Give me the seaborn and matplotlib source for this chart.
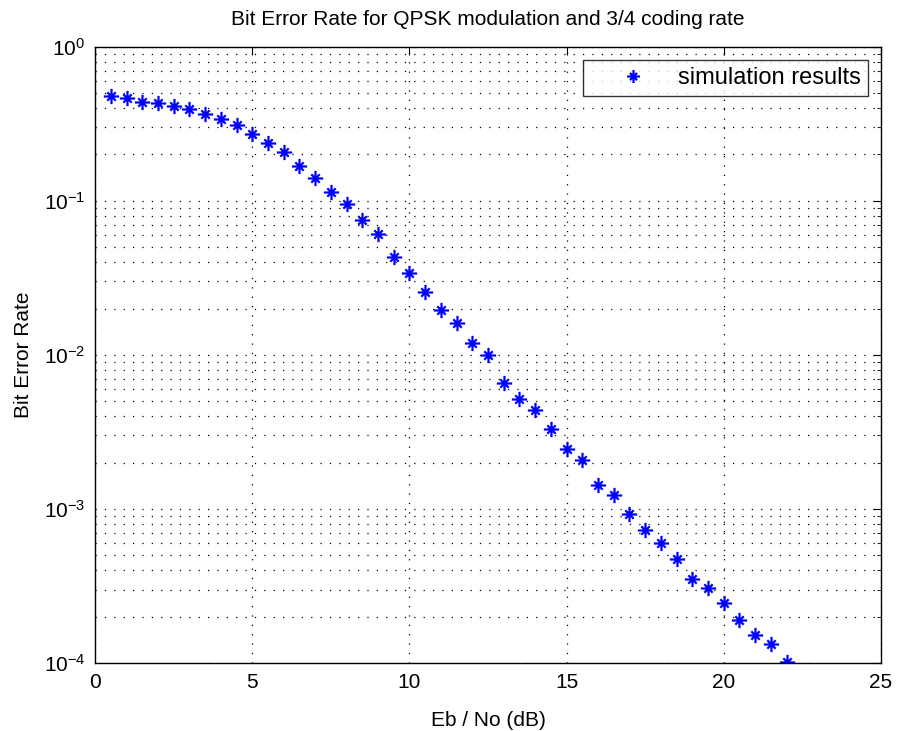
import matplotlib
matplotlib.use("Agg")
import matplotlib.pyplot as plt
from matplotlib.path import Path
import seaborn as sns
import numpy as np
import pandas as pd

ebno_db = [0.5, 1.0, 1.5, 2.0, 2.5, 3.0, 3.5, 4.0, 4.5, 5.0, 5.5, 6.0, 6.5, 7.0, 7.5,
           8.0, 8.5, 9.0, 9.5, 10.0, 10.5, 11.0, 11.5, 12.0, 12.5, 13.0, 13.5, 14.0,
           14.5, 15.0, 15.5, 16.0, 16.5, 17.0, 17.5, 18.0, 18.5, 19.0, 19.5, 20.0,
           20.5, 21.0, 21.5, 22.0]
ber = [0.479, 0.467, 0.440, 0.430, 0.414, 0.394, 0.364, 0.338, 0.310, 0.271,
       0.238, 0.208, 0.168, 0.140, 0.1146, 0.0958, 0.0747, 0.0606, 0.0434, 0.0341,
       0.0255, 0.0195, 0.0160, 0.0119, 0.00993, 0.0066, 0.0052, 0.00439, 0.00329,
       0.00244, 0.00207, 0.00142, 0.00124, 0.000927, 0.000727, 0.000604, 0.000475,
       0.000351, 0.000307, 0.000247, 0.000190, 0.000152, 0.000133, 0.000102]
x_ticks = [0, 5, 10, 15, 20, 25]
title = "Bit Error Rate for QPSK modulation and 3/4 coding rate"
xlabel = "Eb / No (dB)"
ylabel = "Bit Error Rate"
legend_label = "simulation results"

sns.set_style("white")
plt.rcParams['font.family'] = ['Liberation Sans', 'DejaVu Sans']
plt.rcParams['mathtext.fontset'] = 'custom'
plt.rcParams['mathtext.rm'] = 'Liberation Sans'
plt.rcParams['text.color'] = 'black'
plt.rcParams['axes.labelcolor'] = 'black'
plt.rcParams['xtick.color'] = 'black'
plt.rcParams['ytick.color'] = 'black'

# MATLAB-like asterisk marker: plus with long arms, short diagonals
d = 0.55
ast = Path([(-1, 0), (1, 0), (0, -1), (0, 1), (-d, -d), (d, d), (-d, d), (d, -d)],
           [Path.MOVETO, Path.LINETO] * 4)

df = pd.DataFrame({"x": ebno_db, "y": ber})

fig = plt.figure(figsize=(8.97, 7.31), dpi=100)
ax = fig.add_axes([0.106, 0.093, 0.876, 0.843])
sns.lineplot(data=df, x="x", y="y", ax=ax, linestyle="none", marker=ast,
             markersize=11, markeredgewidth=1.6, color="#0000ff",
             markeredgecolor="#0000ff", label=legend_label)
ax.set_yscale("log")
ax.set_xlim(0, 25)
ax.set_ylim(1e-4, 1)
ax.set_xticks(x_ticks)
ax.set_xticklabels([str(t) for t in x_ticks])
gs = (0, (1, 6.5))
ax.grid(True, which="major", axis="both", color="black", linestyle=gs, linewidth=0.9)
ax.grid(True, which="minor", axis="y", color="black", linestyle=gs, linewidth=0.9)
ax.tick_params(which="both", direction="in", top=True, right=True, labelsize=15, colors="black")
ax.tick_params(which="major", length=6, pad=7)
ax.tick_params(which="minor", length=3)
for s in ax.spines.values():
    s.set_color("black")
    s.set_linewidth(1.0)
ax.set_title(title, fontsize=15, pad=16, color="black")
ax.set_xlabel(xlabel, fontsize=15, labelpad=14)
ax.set_ylabel(ylabel, fontsize=15, labelpad=8)
leg = ax.legend(loc="upper right", fontsize=17, frameon=True, fancybox=False,
                edgecolor="black", borderpad=0.3, handlelength=3.6, handletextpad=0.1,
                markerscale=0.85,
                bbox_to_anchor=(0.9835, 0.979), borderaxespad=0)
leg.get_frame().set_linewidth(1.0)
fig.savefig("out.png", dpi=100, facecolor="white")
